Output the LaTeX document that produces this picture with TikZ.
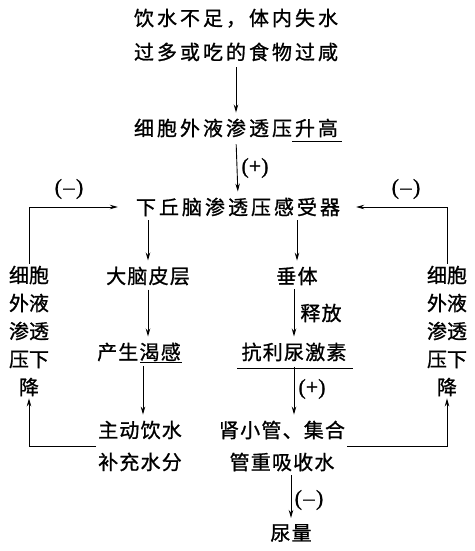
\documentclass[tikz,border=0pt]{standalone}
\usepackage{fontspec}
\newfontfamily\cjk[FakeBold=1]{Noto Sans CJK SC}
\newfontfamily\cjkw[LetterSpace=15,FakeBold=1]{Noto Sans CJK SC}
\newfontfamily\cjkm[LetterSpace=6,FakeBold=1]{Noto Sans CJK SC}
\newfontfamily\lblfont[FakeBold=1]{Liberation Serif}
\usetikzlibrary{arrows.meta}
\begin{document}
\begin{tikzpicture}[x=1pt,y=-1pt,
  txt/.style={font=\cjk\fontsize{20}{28}\selectfont, inner sep=2pt, align=center},
  med/.style={font=\cjkm\fontsize{20}{32}\selectfont, inner sep=2pt, align=center},
  wide/.style={font=\cjkw\fontsize{20}{34}\selectfont, inner sep=2pt, align=center},
  lbl/.style={font=\lblfont\fontsize{22}{22}\selectfont, inner sep=1pt},
  arr/.style={draw, line width=0.9pt, -{Stealth[length=8pt,width=4.5pt]}},
  ln/.style={draw, line width=0.9pt}]
\useasboundingbox (0,0) rectangle (474,551);
\fill[white] (0,0) rectangle (474,551);

\node[wide] (src) at (236,35) {饮水不足，体内失水\\过多或吃的食物过咸};
\node[wide] (up) at (236,128) {细胞外液渗透压升高};
\node[wide] (hyp) at (238,207) {下丘脑渗透压感受器};
\node[med] (cortex) at (148,276) {大脑皮层};
\node[med] (pit) at (297,276) {垂体};
\node[med] (thirst) at (139,352) {产生渴感};
\node[med] (adh) at (294,352) {抗利尿激素};
\node[med] (drink) at (140,446) {主动饮水\\补充水分};
\node[med] (kid) at (282,446) {肾小管、集合\\管重吸收水};
\node[med] (urine) at (291,533) {尿量};
\node[txt] (L) at (29,331) {细胞\\外液\\渗透\\压下\\降};
\node[txt] (R) at (447,331) {细胞\\外液\\渗透\\压下\\降};

\node[lbl] (p1) at (255,168) {(+)};
\node[lbl] (m1) at (69,189) {(\kern1.5pt–\kern1.5pt)};
\node[lbl] (m2) at (406,189) {(\kern1.5pt–\kern1.5pt)};
\node[med] (rel) at (321,313) {释放};
\node[lbl] (p2) at (312,389) {(+)};
\node[lbl] (m3) at (309,500) {(\kern1.5pt–\kern1.5pt)};

% underlines
\draw[ln] (292,141) -- (342,141);
\draw[ln] (140,362) -- (182,362);
\draw[ln] (237,368) -- (353,368);

% connectors
\draw[arr, shorten <=4pt, shorten >=4pt] (src.south) -- (up.north);
\draw[arr, shorten <=5pt, shorten >=4pt] (up.south) -- (hyp.north);
\draw[arr, shorten <=2pt, shorten >=4pt] (hyp.south -| cortex.north) -- (cortex.north);
\draw[arr, shorten <=2pt, shorten >=4pt] (hyp.south -| pit.north) -- (pit.north);
\draw[arr, shorten <=2pt, shorten >=4pt] (cortex.south) -- (cortex.south |- thirst.north);
\draw[arr, shorten <=3pt, shorten >=4pt] ([xshift=4pt]thirst.south) -- ([xshift=4pt]thirst.south |- drink.north);
\draw[arr, shorten <=2pt, shorten >=4pt] (pit.south -| adh.north) -- (adh.north);
\draw[arr, shorten <=3pt, shorten >=4pt] (adh.south) -- (adh.south |- kid.north);
\draw[arr, shorten <=2pt, shorten >=4pt] (urine.north |- kid.south) -- (urine.north);
\draw[arr, shorten >=16pt] (L.north) |- (hyp.west);
\draw[arr, shorten >=14pt] (R.north) |- (hyp.east);
\draw[arr] (drink.west) -| (L.south);
\draw[arr] (kid.east) -| (R.south);
\end{tikzpicture}
\end{document}
